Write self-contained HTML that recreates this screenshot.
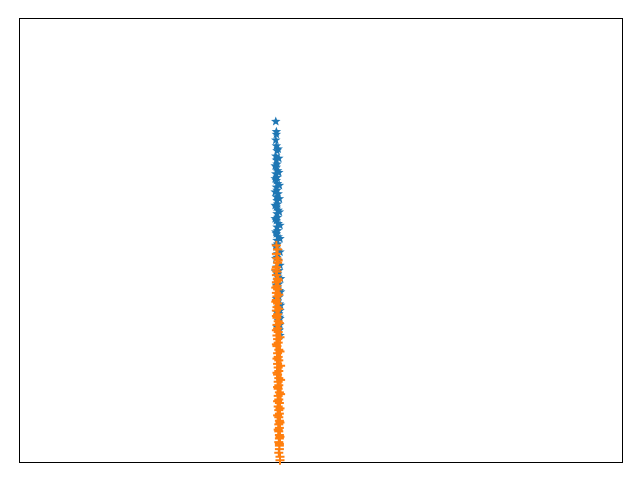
<!DOCTYPE html>
<html><head><meta charset="utf-8"><style>
html,body{margin:0;padding:0;background:#fff;}
svg{display:block;}
</style></head><body>
<svg id="chart" width="640" height="480" xmlns="http://www.w3.org/2000/svg">
<rect x="19.5" y="18.5" width="603" height="444" fill="#fff" stroke="#000" stroke-width="1"/>
<g id="marks"></g>
</svg>
<script>
const blueY=[76.8,74.5,73.9,72.6,71.3,70.2,69.0,68.1,67.2,66.5,65.7,65.0,64.2,63.5,62.8,62.0,61.3,60.5,59.8,59.0,58.2,57.5,56.8,56.0,55.2,54.5,53.8,53.0,52.2,51.5,50.8,50.0,49.2,48.5,47.7,47.0,46.2,45.5,44.7,44.0,43.2,42.5,41.7,41.0,40.2,39.5,38.7,38.0,37.2,36.5,35.7,35.0,34.2,33.5,32.7,32.0,31.0,29.8,28.6,
 70.6,68.5,66.8,65.3,63.9,62.4,60.9,59.4,57.9,56.4,54.9,53.4,51.9,50.4,48.9,47.4,45.9,44.4,42.9,41.4,39.9,38.4,36.9,35.4,33.9,32.4,30.5];
const blueX=[42.5,42.6,42.6,42.5,42.6,42.7,42.5,42.6,42.7,42.6,42.8,42.5,42.7,42.6,42.8,42.6,42.7,42.9,42.6,42.7,42.8,42.6,42.9,42.7,42.8,42.6,42.9,42.7,42.8,42.6,42.9,42.7,42.8,42.6,42.9,42.8,42.7,42.9,42.8,42.7,43.0,42.8,42.9,42.7,43.0,42.8,43.1,42.9,43.0,42.8,43.1,42.9,43.2,43.0,43.1,42.9,43.2,43.1,43.2,
 42.9,43.0,42.4,43.0,42.4,43.1,42.4,43.1,42.4,43.1,42.4,43.2,42.5,43.2,42.5,43.2,42.5,43.2,42.5,43.3,42.6,43.3,42.6,43.3,42.6,43.2,42.7];
const orangeY=[48.9,48.0,47.0,46.0,45.0,44.0,43.0,42.2,41.4,40.6,39.8,39.0,38.2,37.4,36.6,35.8,35.0,34.2,33.4,32.6,31.8,31.0,30.2,29.4,28.6,27.8,27.0,26.2,25.4,24.6,23.8,23.0,22.2,21.4,20.6,19.8,19.0,18.2,17.4,16.6,15.8,15.0,14.2,13.4,12.6,11.8,11.0,10.2,9.4,8.6,7.8,7.0,6.2,5.4,4.6,3.8,3.0,2.2,1.3,0.5,
 45.5,43.5,41.0,39.4,37.8,36.2,34.6,33.0,31.4,29.8,28.2,26.6,25.0,23.4,21.8,20.2,18.6,17.0,15.4,13.8,12.2,10.6,9.0,7.4,5.8,4.2];
const orangeX=[42.6,42.8,42.6,42.7,42.8,42.6,42.7,42.6,42.8,42.6,42.7,42.8,42.6,42.7,42.6,42.8,42.7,42.6,42.8,42.7,42.9,42.7,42.8,42.9,42.7,42.8,42.9,42.7,43.0,42.8,42.9,43.0,42.8,42.9,43.0,42.8,43.0,42.9,43.0,42.9,43.1,42.9,43.0,43.1,42.9,43.0,43.1,43.0,43.1,43.0,43.1,43.0,43.1,43.1,43.0,43.1,43.1,43.0,43.2,43.2,
 42.9,42.5,42.9,42.5,43.0,42.5,43.0,42.6,43.1,42.6,43.2,42.6,43.2,42.7,43.3,42.7,43.3,42.8,43.3,42.8,43.2,42.8,43.2,42.9,43.2,43.1];
const x0=19.5,x1=622.5,y0=462.5,y1=18.5;
function sx(v){return x0+(v/100)*(x1-x0);}
function sy(v){return y0-(v/100)*(y0-y1);}
const NS="http://www.w3.org/2000/svg";
const g=document.getElementById('marks');
function star(cx,cy,r){let p=[];for(let i=0;i<10;i++){const a=-Math.PI/2+i*Math.PI/5;const rr=i%2?r*0.42:r;p.push((cx+rr*Math.cos(a)).toFixed(2)+','+(cy+rr*Math.sin(a)).toFixed(2));}return p.join(' ');}
for(let i=0;i<Math.min(blueX.length,blueY.length);i++){
  const el=document.createElementNS(NS,'polygon');
  el.setAttribute('points',star(sx(blueX[i]),sy(blueY[i]),5));
  el.setAttribute('fill','#1f77b4');
  
  
  g.appendChild(el);
}
for(let i=0;i<Math.min(orangeX.length,orangeY.length);i++){
  const cx=sx(orangeX[i]),cy=sy(orangeY[i]);
  const el=document.createElementNS(NS,'path');
  el.setAttribute('d','M'+(cx-4.5)+' '+cy+'H'+(cx+4.5)+'M'+cx+' '+(cy-4.5)+'V'+(cy+4.5));
  el.setAttribute('stroke','#ff7f0e');
  el.setAttribute('stroke-width','2');
  el.setAttribute('fill','none');
  
  
  g.appendChild(el);
}
</script>
</body></html>
